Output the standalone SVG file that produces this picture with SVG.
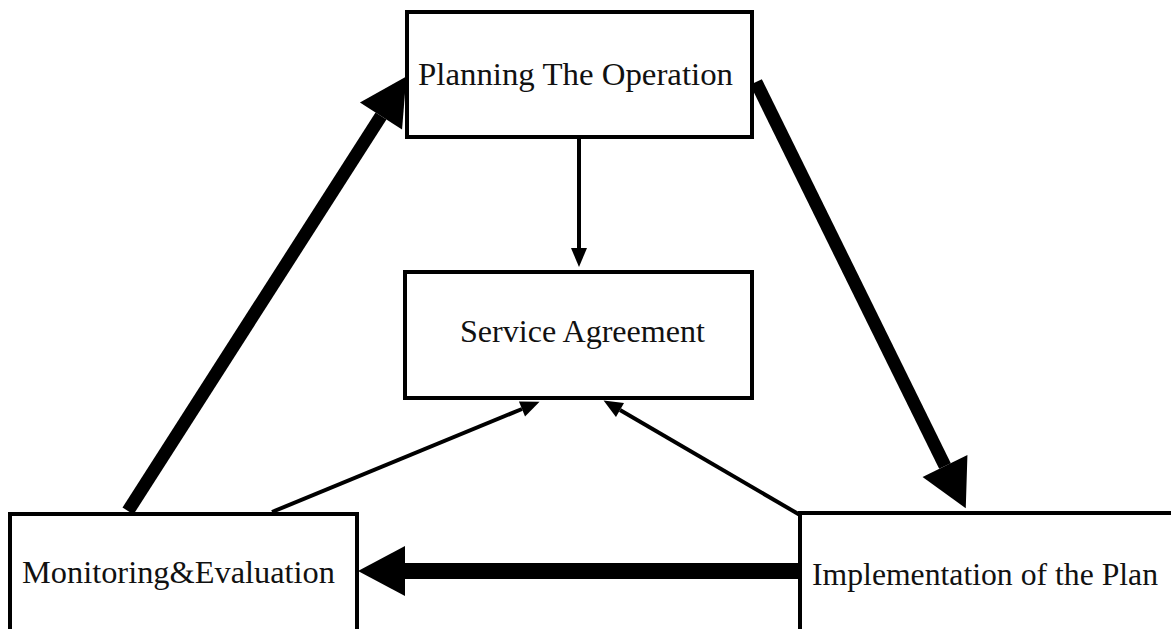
<svg xmlns="http://www.w3.org/2000/svg" width="1171" height="629" viewBox="0 0 1171 629">
  <style>
    .box { fill: #ffffff; stroke: #000000; stroke-width: 4; }
    .label { font-family: "Liberation Serif", "Times New Roman", serif; font-size: 32px; fill: #111111; }
    .thick { fill: none; stroke: #000000; stroke-width: 13; }
    .thin { fill: none; stroke: #000000; stroke-width: 4; }
  </style>
  <defs>
    <!-- heads start at the line end and extend forward to the tip -->
    <marker id="headBig" markerUnits="userSpaceOnUse" markerWidth="48" markerHeight="50" refX="0" refY="25" orient="auto" overflow="visible">
      <path d="M0,0 L47,25 L0,50 Z" fill="#000000"/>
    </marker>
    <marker id="headSmall" markerUnits="userSpaceOnUse" markerWidth="20" markerHeight="16" refX="0" refY="8" orient="auto" overflow="visible">
      <path d="M0,0 L19,8 L0,16 Z" fill="#000000"/>
    </marker>
  </defs>

  <rect x="0" y="0" width="1171" height="629" fill="#ffffff"/>

  <g id="connectors">
    <!-- Monitoring & Evaluation -> Planning -->
    <line class="thick" x1="128" y1="511" x2="381" y2="116" marker-end="url(#headBig)"/>
    <!-- Planning -> Implementation -->
    <line class="thick" x1="756" y1="82" x2="945" y2="466" marker-end="url(#headBig)"/>
    <!-- Implementation -> Monitoring & Evaluation -->
    <line class="thick" x1="800" y1="571" x2="405" y2="571" stroke-width="16" style="stroke-width:16" marker-end="url(#headBig)"/>
    <!-- Planning -> Service Agreement -->
    <line class="thin" x1="579" y1="137" x2="579" y2="248" marker-end="url(#headSmall)"/>
    <!-- Monitoring & Evaluation -> Service Agreement -->
    <line class="thin" x1="272" y1="512" x2="522" y2="409" marker-end="url(#headSmall)"/>
    <!-- Implementation -> Service Agreement -->
    <line class="thin" x1="800" y1="515" x2="620" y2="410" marker-end="url(#headSmall)"/>
  </g>

  <g id="planning">
    <rect class="box" x="407" y="12" width="345" height="125"/>
    <text class="label" x="418" y="85" textLength="315" lengthAdjust="spacingAndGlyphs">Planning The Operation</text>
  </g>

  <g id="service">
    <rect class="box" x="405" y="272" width="347" height="126"/>
    <text class="label" x="460" y="342" textLength="245" lengthAdjust="spacingAndGlyphs">Service Agreement</text>
  </g>

  <g id="monitoring">
    <rect class="box" x="10" y="514" width="347" height="130"/>
    <text class="label" x="22" y="583" textLength="313" lengthAdjust="spacingAndGlyphs">Monitoring&amp;Evaluation</text>
  </g>

  <g id="implementation">
    <rect class="box" x="800" y="513" width="400" height="130"/>
    <text class="label" x="812" y="585" textLength="346" lengthAdjust="spacingAndGlyphs">Implementation of the Plan</text>
  </g>
</svg>
